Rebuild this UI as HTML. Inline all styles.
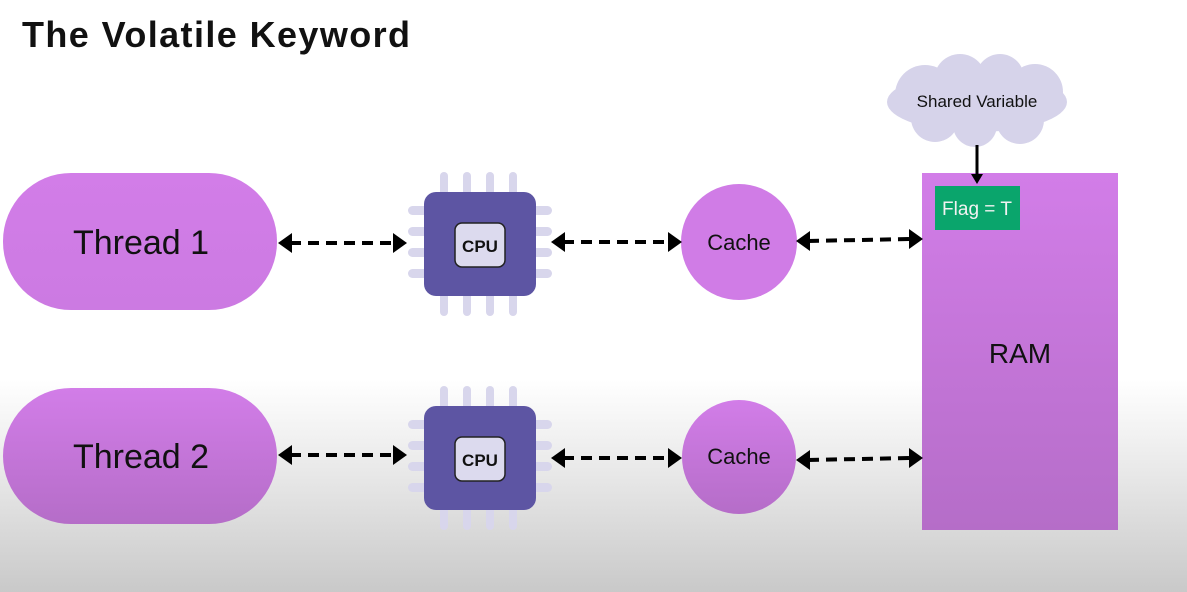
<!DOCTYPE html>
<html><head><style>
html,body{margin:0;padding:0;width:1187px;height:592px;overflow:hidden}
body{background:linear-gradient(#fff 0px,#fff 380px,#e9e9e9 470px,#c9c9c9 592px)}
</style></head><body>
<svg width="1187" height="592" xmlns="http://www.w3.org/2000/svg" style="position:absolute;left:0;top:0">
<defs>
<linearGradient id="pg" x1="0" y1="0" x2="0" y2="1"><stop offset="0" stop-color="#d27de8"/><stop offset="1" stop-color="#b56dc8"/></linearGradient>
<linearGradient id="pt" x1="0" y1="0" x2="0" y2="1"><stop offset="0" stop-color="#d27de8"/><stop offset="1" stop-color="#cc7ae2"/></linearGradient>
<g id="cpu">
 <g fill="#d8d6ec">
  <rect x="-40" y="-72" width="8" height="26" rx="4"/><rect x="-17" y="-72" width="8" height="26" rx="4"/><rect x="6" y="-72" width="8" height="26" rx="4"/><rect x="29" y="-72" width="8" height="26" rx="4"/>
  <rect x="-40" y="46" width="8" height="26" rx="4"/><rect x="-17" y="46" width="8" height="26" rx="4"/><rect x="6" y="46" width="8" height="26" rx="4"/><rect x="29" y="46" width="8" height="26" rx="4"/>
  <rect x="-72" y="-38" width="28" height="9" rx="4.5"/><rect x="-72" y="-17" width="28" height="9" rx="4.5"/><rect x="-72" y="4" width="28" height="9" rx="4.5"/><rect x="-72" y="25" width="28" height="9" rx="4.5"/>
  <rect x="44" y="-38" width="28" height="9" rx="4.5"/><rect x="44" y="-17" width="28" height="9" rx="4.5"/><rect x="44" y="4" width="28" height="9" rx="4.5"/><rect x="44" y="25" width="28" height="9" rx="4.5"/>
 </g>
 <rect x="-56" y="-52" width="112" height="104" rx="12" fill="#5d55a3"/>
 <rect x="-25" y="-21" width="50" height="44" rx="7" fill="#dcdaee" stroke="#222" stroke-width="1.5"/>
 <text x="0" y="8" text-anchor="middle" font-family="Liberation Sans,sans-serif" font-weight="bold" font-size="17" fill="#111">CPU</text>
</g>
</defs>
<text x="22" y="47" font-family="Liberation Sans,sans-serif" font-weight="bold" font-size="36" letter-spacing="1.4" fill="#111">The Volatile Keyword</text>

<rect x="3" y="173" width="274" height="137" rx="68" fill="url(#pt)"/>
<text x="141" y="254" text-anchor="middle" font-family="Liberation Sans,sans-serif" font-size="34" fill="#111">Thread 1</text>
<rect x="3" y="388" width="274" height="136" rx="68" fill="url(#pg)"/>
<text x="141" y="468" text-anchor="middle" font-family="Liberation Sans,sans-serif" font-size="34" fill="#111">Thread 2</text>

<use href="#cpu" x="480" y="244"/>
<use href="#cpu" x="480" y="458"/>

<circle cx="739" cy="242" r="58" fill="#d07ce6"/>
<text x="739" y="250" text-anchor="middle" font-family="Liberation Sans,sans-serif" font-size="22" fill="#111">Cache</text>
<circle cx="739" cy="457" r="57" fill="url(#pg)"/>
<text x="739" y="464" text-anchor="middle" font-family="Liberation Sans,sans-serif" font-size="22" fill="#111">Cache</text>

<rect x="922" y="173" width="196" height="357" fill="url(#pg)"/>
<text x="1020" y="363" text-anchor="middle" font-family="Liberation Sans,sans-serif" font-size="28" fill="#111">RAM</text>
<rect x="935" y="186" width="85" height="44" fill="#0aa56c"/>
<text x="977" y="215" text-anchor="middle" font-family="Liberation Sans,sans-serif" font-size="19" fill="#f2f2f2">Flag = T</text>

<g fill="#d6d3ea">
<ellipse cx="977" cy="102" rx="90" ry="30"/>
<circle cx="925" cy="95" r="30"/><circle cx="960" cy="80" r="26"/><circle cx="1000" cy="78" r="24"/><circle cx="1035" cy="92" r="28"/>
<circle cx="935" cy="118" r="24"/><circle cx="975" cy="125" r="22"/><circle cx="1020" cy="120" r="24"/>
</g>
<text x="977" y="107" text-anchor="middle" font-family="Liberation Sans,sans-serif" font-size="17" fill="#111">Shared Variable</text>
<line x1="977" y1="145" x2="977" y2="176" stroke="#000" stroke-width="3"/>
<path d="M971,174 L983,174 L977,184 Z" fill="#000"/>

<g stroke="#000" stroke-width="4" stroke-dasharray="11,7" fill="none">
<line x1="290" y1="243" x2="395" y2="243"/>
<line x1="563" y1="242" x2="670" y2="242"/>
<line x1="808" y1="241" x2="911" y2="239"/>
<line x1="290" y1="455" x2="395" y2="455"/>
<line x1="563" y1="458" x2="670" y2="458"/>
<line x1="808" y1="460" x2="911" y2="458"/>
</g>
<g fill="#000">
<path d="M278,243 L292,233 L292,253 Z"/><path d="M407,243 L393,233 L393,253 Z"/>
<path d="M551,242 L565,232 L565,252 Z"/><path d="M682,242 L668,232 L668,252 Z"/>
<path d="M796,241 L810,231 L810,251 Z"/><path d="M923,239 L909,229 L909,249 Z"/>
<path d="M278,455 L292,445 L292,465 Z"/><path d="M407,455 L393,445 L393,465 Z"/>
<path d="M551,458 L565,448 L565,468 Z"/><path d="M682,458 L668,448 L668,468 Z"/>
<path d="M796,460 L810,450 L810,470 Z"/><path d="M923,458 L909,448 L909,468 Z"/>
</g>
</svg>
</body></html>
